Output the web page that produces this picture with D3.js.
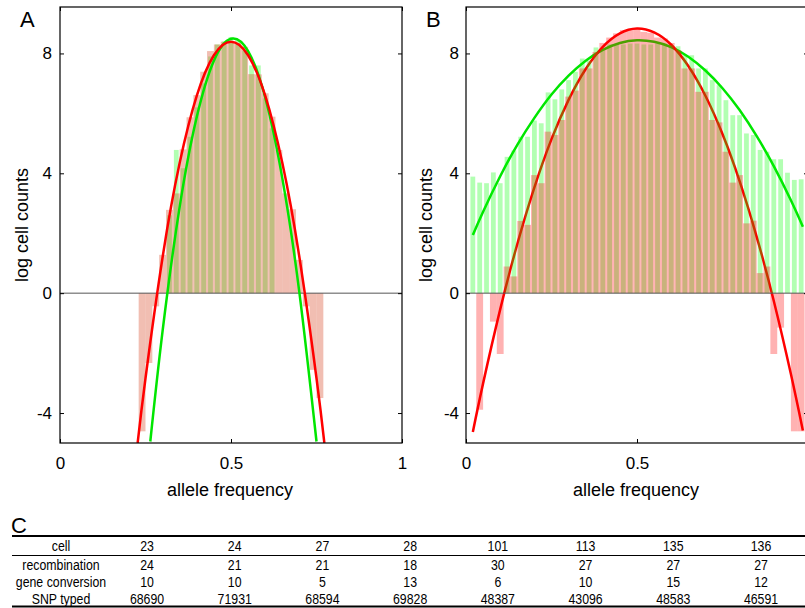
<!DOCTYPE html>
<html>
<head>
<meta charset="utf-8">
<script src="https://d3js.org/d3.v7.min.js"></script>
<style>
body { margin: 0; background: #fff; }
svg { display: block; font-family: "Liberation Sans", Arial, sans-serif; }
.frame { fill: none; stroke: #000; stroke-width: 1.2px; }
.zero { stroke: #555; stroke-width: 1px; }
.fit { fill: none; stroke-width: 2.5px; }
.tbl text { font-family: "Liberation Sans Narrow", "Liberation Sans", Arial, sans-serif; font-size: 14.5px; }
</style>
</head>
<body>
<svg width="805" height="608"></svg>
<script>

// ---- panel A data (log cell counts per allele frequency bin) ----
var binsA = [0.24, 0.26, 0.28, 0.30, 0.32, 0.34, 0.36, 0.38, 0.40, 0.42, 0.44, 0.46, 0.48, 0.50,
             0.52, 0.54, 0.56, 0.58, 0.60, 0.62, 0.64, 0.66, 0.68, 0.70, 0.72, 0.74, 0.76];
var redA = [-4.61, -2.33, -0.44, 1.28, 2.78, 3.33, 4.8, 5.87, 6.61, 7.39, 8.08, 8.3, 8.39, 8.4,
            8.35, 8.22, 7.31, 7.3, 6.67, 5.89, 4.78, 3.33, 2.8, 1.11, -0.44, -2.56, -3.5];
var greenBinsA = [0.32, 0.34, 0.36, 0.38, 0.40, 0.42, 0.44, 0.46, 0.48, 0.50, 0.52, 0.54, 0.56, 0.58, 0.60, 0.62];
var greenA = [2.6, 4.78, 4.17, 5.22, 6.2, 7.0, 7.9, 8.3, 8.4, 8.55, 8.45, 8.1, 7.6, 7.6, 6.5, 5.5];

// fitted curves, points
var redFitA_x = [0.227, 0.25, 0.3, 0.35, 0.4, 0.45, 0.5, 0.55, 0.6, 0.65, 0.7, 0.75, 0.773];
var redFitA_y = [-5.0, -2.84, 1.20, 4.35, 6.59, 7.94, 8.39, 7.94, 6.59, 4.35, 1.20, -2.84, -5.0];
var greenFitA_x = [0.264, 0.3, 0.35, 0.4, 0.45, 0.5, 0.55, 0.6, 0.65, 0.7, 0.75];
var greenFitA_y = [-4.95, -1.26, 2.89, 5.89, 7.76, 8.49, 8.08, 6.53, 3.84, 0.02, -4.95];

// ---- panel B data ----
var binsB = [0.02, 0.04, 0.06, 0.08, 0.10, 0.12, 0.14, 0.16, 0.18, 0.20, 0.22, 0.24, 0.26, 0.28, 0.30,
             0.32, 0.34, 0.36, 0.38, 0.40, 0.42, 0.44, 0.46, 0.48, 0.50, 0.52, 0.54, 0.56, 0.58, 0.60,
             0.62, 0.64, 0.66, 0.68, 0.70, 0.72, 0.74, 0.76, 0.78, 0.80, 0.82, 0.84, 0.86, 0.88, 0.90,
             0.92, 0.94, 0.96, 0.98];
var redB = [null, -3.89, null, -0.95, -2.03, 0.89, 0.56, 2.41, 2.28, 3.94, 3.67, 5.39, 5.28, 5.78, 6.56,
            6.76, 7.5, 7.5, 8.05, 8.35, 8.53, 8.67, 8.78, 8.8, 8.83, 8.72, 8.69, 8.53, 8.5, 8.35,
            8.1, 7.5, 7.5, 6.72, 6.72, 5.78, 5.7, 4.72, 3.69, 3.94, 2.33, 2.42, 0.67, 0.89, -2.03,
            -1.15, null, -4.61, -4.61];
var greenB = [3.89, 3.69, 3.67, 4.03, 3.67, 4.55, 4.76, 5.22, 5.22, 5.76, 5.67, 6.7, 6.47, 6.8, 7.11,
              7.39, 7.83, 7.76, 8.2, 8.15, 8.3, 8.3, 8.3, 8.33, 8.33, 8.3, 8.3, 8.33, 8.33, 8.28,
              8.24, 7.94, 7.94, 7.5, 7.5, 7.11, 6.94, 6.44, 5.94, 5.94, 5.33, 5.28, 4.78, 4.72, 4.47,
              4.47, 4.02, 3.78, 3.8];

var redFitB_x = [0.02, 0.05, 0.1, 0.15, 0.2, 0.25, 0.3, 0.35, 0.4, 0.45, 0.5, 0.55, 0.6, 0.65, 0.7,
                 0.75, 0.8, 0.85, 0.9, 0.95, 0.985];
var redFitB_y = [-4.63, -3.01, -0.54, 1.64, 3.53, 5.14, 6.45, 7.48, 8.22, 8.67, 8.83, 8.70, 8.29, 7.58, 6.59,
                 5.31, 3.74, 1.88, -0.26, -2.70, -4.58];
var greenFitB_x = [0.02, 0.05, 0.1, 0.15, 0.2, 0.25, 0.3, 0.35, 0.4, 0.45, 0.5, 0.55, 0.6, 0.65, 0.7,
                   0.75, 0.8, 0.85, 0.9, 0.95, 0.985];
var greenFitB_y = [1.94, 2.72, 3.90, 4.95, 5.85, 6.63, 7.26, 7.76, 8.12, 8.35, 8.44, 8.39, 8.21, 7.89, 7.43,
                   6.84, 6.11, 5.24, 4.24, 3.10, 2.22];

var yTicks = [-4, 0, 4, 8];
var xTicks = [0, 0.5, 1];
var xTickLabels = ["0", "0.5", "1"];

// ---- panel C table ----
var tableLabels = ["cell", "recombination", "gene conversion", "SNP typed"];
var cells = ["23", "24", "27", "28", "101", "113", "135", "136"];
var recombination = [24, 21, 21, 18, 30, 27, 27, 27];
var geneConversion = [10, 10, 5, 13, 6, 10, 15, 12];
var snpTyped = [68690, 71931, 68594, 69828, 48387, 43096, 48583, 46591];

var svg = d3.select("svg");
var W = 805;
var plotTop = 7, plotBottom = 443;
var y = d3.scaleLinear().domain([-5, 9.55]).range([plotBottom, plotTop]);

function pairs(xs, ys) {
    return xs.map(function(v, i) { return [v, ys[i]]; });
}

function panel(opt) {
    var x = d3.scaleLinear().domain([0, 1]).range([opt.left, opt.right]);
    var bw = x(0.02) - x(0);
    var g = svg.append("g");
    var id = "clip" + opt.name;
    svg.append("clipPath").attr("id", id)
        .append("rect")
        .attr("x", opt.left).attr("y", plotTop)
        .attr("width", opt.right - opt.left).attr("height", plotBottom - plotTop);

    var plot = g.append("g").attr("clip-path", "url(#" + id + ")");
    var line = d3.line()
        .x(function(d) { return x(d[0]); })
        .y(function(d) { return y(d[1]); })
        .curve(d3.curveNatural);

    function drawFits() {
        plot.append("path").attr("class", "fit")
            .attr("d", line(pairs(opt.greenFitX, opt.greenFitY)))
            .style("stroke", "#00e600");
        plot.append("path").attr("class", "fit")
            .attr("d", line(pairs(opt.redFitX, opt.redFitY)))
            .style("stroke", "#ff0000");
    }

    if (!opt.fitsOnTop) drawFits();

    // green histogram (narrower bars)
    plot.append("g").selectAll("rect")
        .data(pairs(opt.greenBins, opt.green).filter(function(d) { return d[1] != null; }))
        .enter().append("rect")
        .attr("x", function(d) { return x(d[0]) - bw * 0.35; })
        .attr("width", bw * 0.7)
        .attr("y", function(d) { return y(Math.max(0, d[1])); })
        .attr("height", function(d) { return Math.abs(y(d[1]) - y(0)); })
        .style("fill", "rgb(0,255,0)")
        .style("fill-opacity", 0.3);

    // red histogram (full bin width), drawn over the green one
    plot.append("g").selectAll("rect")
        .data(pairs(opt.bins, opt.red).filter(function(d) { return d[1] != null; }))
        .enter().append("rect")
        .attr("x", function(d) { return x(d[0]) - bw / 2; })
        .attr("width", bw)
        .attr("y", function(d) { return y(Math.max(0, d[1])); })
        .attr("height", function(d) { return Math.abs(y(d[1]) - y(0)); })
        .style("fill", opt.redFill)
        .style("fill-opacity", opt.redOpacity);

    // zero line
    plot.append("line").attr("class", "zero")
        .attr("x1", opt.left).attr("x2", opt.right)
        .attr("y1", y(0)).attr("y2", y(0));

    if (opt.fitsOnTop) drawFits();

    // inward ticks on all four sides
    var axB = g.append("g").attr("transform", "translate(0," + plotBottom + ")")
        .call(d3.axisBottom(x).tickValues(xTicks).tickSize(-4).tickPadding(14)
            .tickFormat(function(d, i) { return x(d) > W ? "" : xTickLabels[i]; }));
    var axT = g.append("g").attr("transform", "translate(0," + plotTop + ")")
        .call(d3.axisTop(x).tickValues(xTicks).tickSize(-4).tickFormat(""));
    var axL = g.append("g").attr("transform", "translate(" + opt.left + ",0)")
        .call(d3.axisLeft(y).tickValues(yTicks).tickSize(-4).tickPadding(opt.yPad)
            .tickFormat(function(d) { return String(d); }));
    var axR = g.append("g").attr("transform", "translate(" + opt.right + ",0)")
        .call(d3.axisRight(y).tickValues(yTicks).tickSize(-4).tickFormat(""));
    [axB, axT, axL, axR].forEach(function(a) {
        a.select(".domain").remove();
        a.selectAll("line").style("stroke", "#000");
        a.selectAll("text").style("font-size", "17px")
            .style("font-family", "'Liberation Sans', Arial, sans-serif").style("fill", "#000");
    });
    g.append("rect").attr("class", "frame")
        .attr("x", opt.left).attr("y", plotTop)
        .attr("width", opt.right - opt.left).attr("height", plotBottom - plotTop);

    // panel letter and axis titles
    g.append("text").attr("x", opt.letterX).attr("y", 27)
        .style("font-size", "22px").text(opt.name);
    g.append("text")
        .attr("transform", "translate(" + opt.ylabX + "," + 225 + ") rotate(-90)")
        .attr("text-anchor", "middle")
        .style("font-size", "18px")
        .text("log cell counts");
    g.append("text")
        .attr("x", (opt.left + opt.right) / 2 - 1).attr("y", 496)
        .attr("text-anchor", "middle")
        .style("font-size", "18px")
        .text("allele frequency");
}

panel({
    name: "A", left: 60, right: 402, letterX: 20, ylabX: 28, yPad: 8,
    bins: binsA, red: redA, greenBins: greenBinsA, green: greenA,
    redFitX: redFitA_x, redFitY: redFitA_y, greenFitX: greenFitA_x, greenFitY: greenFitA_y,
    redFill: "rgb(215,69,35)", redOpacity: 0.35, fitsOnTop: true
});

panel({
    name: "B", left: 466, right: 808, letterX: 426, ylabX: 432, yPad: 7,
    bins: binsB, red: redB, greenBins: binsB, green: greenB,
    redFitX: redFitB_x, redFitY: redFitB_y, greenFitX: greenFitB_x, greenFitY: greenFitB_y,
    redFill: "rgb(255,0,0)", redOpacity: 0.3, fitsOnTop: false
});

// ---- table C ----
var tbl = svg.append("g").attr("class", "tbl");
svg.append("text").attr("x", 11).attr("y", 533).style("font-size", "22px").text("C");

var col = d3.scalePoint().domain(d3.range(cells.length)).range([147, 761]);
var rowBase = [551, 569.5, 586.5, 603.5];
var rows = [cells, recombination, geneConversion, snpTyped];

tbl.append("line").attr("x1", 12).attr("x2", 805).attr("y1", 536).attr("y2", 536)
    .style("stroke", "#000").style("stroke-width", 2);
tbl.append("line").attr("x1", 12).attr("x2", 805).attr("y1", 555.5).attr("y2", 555.5)
    .style("stroke", "#000").style("stroke-width", 1);
tbl.append("line").attr("x1", 12).attr("x2", 805).attr("y1", 606.5).attr("y2", 606.5)
    .style("stroke", "#000").style("stroke-width", 2);

function narrow(sel, cx, cy) {
    sel.attr("transform", "translate(" + cx + "," + cy + ") scale(0.85,1)")
        .attr("text-anchor", "middle");
}

tableLabels.forEach(function(lab, r) {
    tbl.append("text").call(narrow, 61, rowBase[r]).text(lab);
    rows[r].forEach(function(d, i) {
        tbl.append("text").call(narrow, col(i), rowBase[r]).text(d);
    });
});

</script>
</body>
</html>
